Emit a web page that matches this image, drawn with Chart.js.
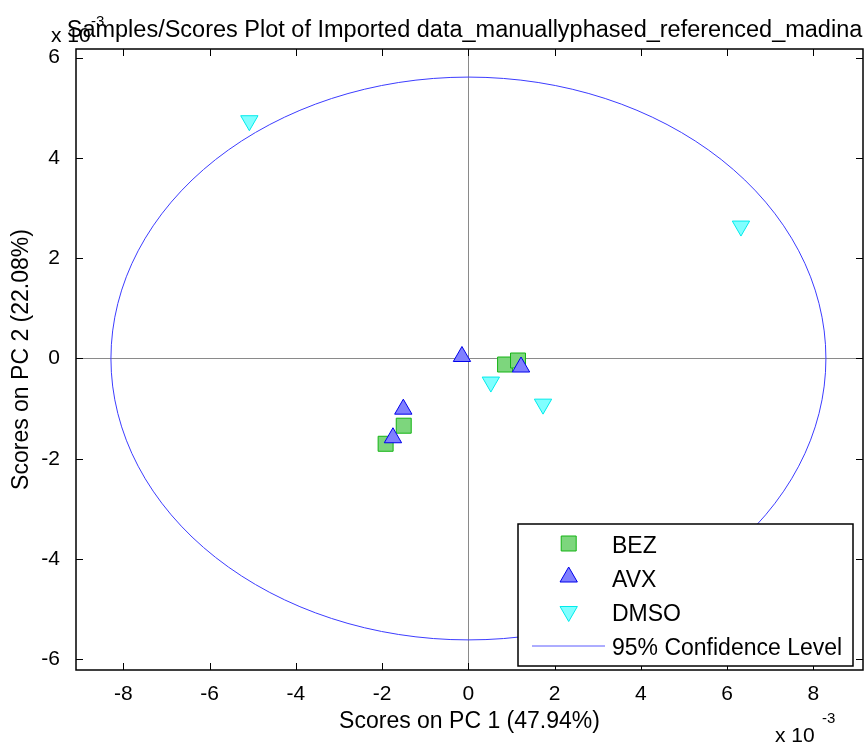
<!DOCTYPE html>
<html>
<head>
<meta charset="utf-8">
<script src="https://cdn.jsdelivr.net/npm/chart.js@4.4.0/dist/chart.umd.min.js"></script>
<style>
  html, body { margin: 0; padding: 0; background: #fff; }
  #wrap { width: 865px; height: 744px; position: relative; }
</style>
</head>
<body>
<div id="wrap"><canvas id="c"></canvas></div>
<script>
// scores (x 10^-3)
const bezX = [-1.92, -1.50, 0.85, 1.15];
const bezY = [-1.70, -1.34, -0.12, -0.04];
const avxX = [-0.15, 1.22, -1.51, -1.75];
const avxY = [0.04, -0.17, -1.01, -1.58];
const dmsoX = [0.52, 1.73, -5.08, 6.32];
const dmsoY = [-0.47, -0.91, 4.74, 2.64];

const xTicks = [-8, -6, -4, -2, 0, 2, 4, 6, 8];
const yTicks = [-6, -4, -2, 0, 2, 4, 6];

// 95% confidence ellipse: centre and semi-axes
const ellipseCenter = [0, 0];
const ellipseRadius = [8.29, 5.61];

const titleText = 'Samples/Scores Plot of Imported data_manuallyphased_referenced_madina';
const xTitle = 'Scores on PC 1 (47.94%)';
const yTitle = 'Scores on PC 2 (22.08%)';
const legendLabels = ['BEZ', 'AVX', 'DMSO', '95% Confidence Level'];

const FONT = '"Liberation Sans", Arial, sans-serif';

function pts(xs, ys) {
  return xs.map((x, i) => ({ x: x, y: ys[i] }));
}

function text(ctx, s, x, y, size, align, rot) {
  ctx.save();
  ctx.translate(x, y);
  if (rot) ctx.rotate(rot);
  ctx.font = size + 'px ' + FONT;
  ctx.fillStyle = '#000';
  ctx.textAlign = align || 'left';
  ctx.textBaseline = 'alphabetic';
  ctx.fillText(s, 0, 0);
  ctx.restore();
}

const framePlugin = {
  id: 'frame',
  beforeDatasetsDraw(chart) {
    const { ctx, chartArea: a, scales: { x, y } } = chart;
    ctx.save();
    // zero lines
    ctx.strokeStyle = '#8a8a8a';
    ctx.lineWidth = 1;
    const x0 = Math.round(x.getPixelForValue(0)) + 0.5;
    const y0 = Math.round(y.getPixelForValue(0)) + 0.5;
    ctx.beginPath();
    ctx.moveTo(x0, a.top); ctx.lineTo(x0, a.bottom);
    ctx.moveTo(a.left, y0); ctx.lineTo(a.right, y0);
    ctx.stroke();

    // confidence ellipse
    const cx = x.getPixelForValue(ellipseCenter[0]);
    const cy = y.getPixelForValue(ellipseCenter[1]);
    const rx = Math.abs(x.getPixelForValue(ellipseCenter[0] + ellipseRadius[0]) - cx);
    const ry = Math.abs(y.getPixelForValue(ellipseCenter[1] + ellipseRadius[1]) - cy);
    ctx.strokeStyle = 'rgb(60,60,255)';
    ctx.beginPath();
    ctx.ellipse(cx, cy, rx, ry, 0, 0, Math.PI * 2);
    ctx.stroke();
    ctx.restore();
  },
  afterDraw(chart) {
    const { ctx, chartArea: a, scales: { x, y } } = chart;
    ctx.save();
    ctx.strokeStyle = '#000';
    ctx.lineWidth = 1;
    // inward ticks on all four sides
    const tl = 7;
    ctx.beginPath();
    xTicks.forEach(v => {
      const px = Math.round(x.getPixelForValue(v)) + 0.5;
      ctx.moveTo(px, a.bottom); ctx.lineTo(px, a.bottom - tl);
      ctx.moveTo(px, a.top); ctx.lineTo(px, a.top + tl);
    });
    yTicks.forEach(v => {
      const py = Math.round(y.getPixelForValue(v)) + 0.5;
      ctx.moveTo(a.left, py); ctx.lineTo(a.left + tl, py);
      ctx.moveTo(a.right, py); ctx.lineTo(a.right - tl, py);
    });
    ctx.stroke();
    // axes box
    ctx.lineWidth = 1.5;
    ctx.strokeRect(a.left, a.top, a.right - a.left, a.bottom - a.top);

    // texts
    const mid = (a.left + a.right) / 2;
    text(ctx, titleText, mid - 5, 37, 23.5, 'center');
    text(ctx, 'x 10', 51, 42, 21, 'left');
    text(ctx, '-3', 91, 26, 15, 'left');
    text(ctx, xTitle, mid, 728, 23, 'center');
    text(ctx, yTitle, 28, (a.top + a.bottom) / 2, 23, 'center', -Math.PI / 2);
    text(ctx, 'x 10', 775, 742, 21, 'left');
    text(ctx, '-3', 822, 723, 15, 'left');

    // legend
    const lx = 518, ly = 524, lw = 335, lh = 142;
    ctx.fillStyle = '#fff';
    ctx.fillRect(lx, ly, lw, lh);
    ctx.lineWidth = 1.5;
    ctx.strokeStyle = '#000';
    ctx.strokeRect(lx, ly, lw, lh);
    const rows = [543.5, 577, 611.5, 645.5];
    chart.data.datasets.forEach((ds, i) => {
      ctx.save();
      ctx.fillStyle = ds.backgroundColor;
      ctx.strokeStyle = ds.borderColor;
      ctx.lineWidth = ds.borderWidth;
      Chart.helpers.drawPoint(ctx, {
        pointStyle: ds.pointStyle,
        radius: ds.pointRadius,
        rotation: ds.pointRotation || 0,
        borderWidth: ds.borderWidth
      }, 568.7, rows[i]);
      ctx.restore();
      text(ctx, legendLabels[i], 612, rows[i] + 9.5, 23, 'left');
    });
    ctx.strokeStyle = 'rgb(90,90,255)';
    ctx.lineWidth = 1;
    ctx.beginPath();
    ctx.moveTo(532, rows[3] + 0.5); ctx.lineTo(605, rows[3] + 0.5);
    ctx.stroke();
    text(ctx, legendLabels[3], 612, rows[3] + 9.5, 23, 'left');
    ctx.restore();
  }
};

const tickFont = { family: FONT, size: 21 };

new Chart(document.getElementById('c'), {
  type: 'scatter',
  data: {
    datasets: [
      {
        label: legendLabels[0], data: pts(bezX, bezY), order: 3,
        pointStyle: 'rect', pointRadius: 10.6, pointHoverRadius: 10.6,
        backgroundColor: 'rgb(125,214,125)', borderColor: 'rgb(20,180,20)', borderWidth: 1
      },
      {
        label: legendLabels[1], data: pts(avxX, avxY), order: 2,
        pointStyle: 'triangle', pointRadius: 10, pointHoverRadius: 10,
        backgroundColor: 'rgb(128,128,255)', borderColor: 'rgb(0,0,235)', borderWidth: 1
      },
      {
        label: legendLabels[2], data: pts(dmsoX, dmsoY), order: 1,
        pointStyle: 'triangle', pointRotation: 180,
        pointRadius: 10, pointHoverRadius: 10,
        backgroundColor: 'rgb(128,255,255)', borderColor: 'rgb(0,235,235)', borderWidth: 1
      }
    ]
  },
  options: {
    responsive: true,
    maintainAspectRatio: false,
    animation: false,
    events: [],
    layout: { autoPadding: false, padding: { top: 49, right: 2, left: 0, bottom: 0 } },
    plugins: {
      legend: { display: false },
      title: { display: false },
      tooltip: { enabled: false }
    },
    scales: {
      x: {
        type: 'linear', min: -9.1, max: 9.15,
        afterBuildTicks: s => { s.ticks = xTicks.map(v => ({ value: v })); },
        afterFit: s => { s.height = 74; s.paddingLeft = 0; s.paddingRight = 0; },
        grid: { display: false }, border: { display: false },
        ticks: { font: tickFont, color: '#000', padding: 4, maxRotation: 0 }
      },
      y: {
        type: 'linear', min: -6.21, max: 6.17,
        afterBuildTicks: s => { s.ticks = yTicks.map(v => ({ value: v })); },
        afterFit: s => { s.width = 76; s.paddingTop = 0; s.paddingBottom = 0; },
        grid: { display: false }, border: { display: false },
        ticks: { font: tickFont, color: '#000', padding: 8 }
      }
    }
  },
  plugins: [framePlugin]
});
</script>
</body>
</html>
